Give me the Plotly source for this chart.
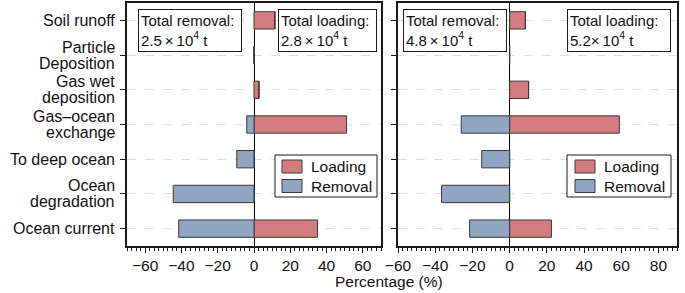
import plotly.graph_objects as go

categories = ["Soil runoff", "Particle<br>Deposition", "Gas wet<br>deposition",
              "Gas–ocean<br>exchange", "To deep ocean", "Ocean<br>degradation", "Ocean current"]

# Left panel (percent)
left_loading = [11.5, 0, 2.7, 51, 0, 0, 35]
left_removal = [0, 0, 0, -4, -9.5, -44.5, -41.5]
# Right panel (percent)
right_loading = [8.5, 0, 10.2, 59, 0, 0, 22.5]
right_removal = [0, 0, 0, -26, -15, -36.6, -21.5]

series_names = ["Loading", "Removal"]
left_totals = ["Total removal:<br>2.5\u2009×\u200910<sup>4</sup> t", "Total loading:<br>2.8\u2009×\u200910<sup>4</sup> t"]
right_totals = ["Total removal:<br>4.8\u2009×\u200910<sup>4</sup> t", "Total loading:<br>5.2×\u200910<sup>4</sup> t"]

LOAD_C = "#d47b7f"
REM_C = "#8fa5c1"
COLORS = [LOAD_C, REM_C]
EDGE = "#3a3a3a"
INK = "#1a1a1a"
FONT = "Liberation Sans, Arial, sans-serif"

fig = go.Figure()

def add_panel(loading, removal, xa, ya):
    for name, vals, col in zip(series_names, [loading, removal], COLORS):
        fig.add_trace(go.Bar(y=categories, x=vals, orientation="h", name=name,
                             marker=dict(color=col, line=dict(color=EDGE, width=1)),
                             width=0.5, xaxis=xa, yaxis=ya, showlegend=False))

add_panel(left_loading, left_removal, "x", "y")
add_panel(right_loading, right_removal, "x2", "y2")

W, H = 685, 293
def px(x): return x / W
def py(y): return 1 - y / H

common_x = dict(showline=True, linecolor=INK, linewidth=1.5, mirror=True,
                ticks="outside", ticklen=5, tickwidth=1.2, tickcolor=INK,
                dtick=20, showgrid=False, zeroline=True, zerolinecolor="#000000",
                zerolinewidth=1.2, tickfont=dict(size=15.5, color="#111"),
                minor=dict(ticks="outside", ticklen=3, tickwidth=1, tickcolor=INK, dtick=2.5),
                automargin=False, fixedrange=True)
common_y = dict(showline=True, linecolor=INK, linewidth=1.5, mirror=True,
                ticks="outside", ticklen=5, tickwidth=1.2, tickcolor=INK,
                showgrid=True, gridcolor="#dedede", griddash="dash", gridwidth=1,
                categoryorder="array", categoryarray=categories, showticklabels=False,
                range=[6.5, -0.5], automargin=False, fixedrange=True)

fig.update_layout(
    width=W, height=H,
    margin=dict(l=0, r=0, t=0, b=0, autoexpand=False),
    paper_bgcolor="white", plot_bgcolor="white",
    font=dict(family=FONT, size=15, color="#111"),
    barmode="relative",
    xaxis=dict(domain=[px(127), px(381)], range=[-70, 70], anchor="y", **common_x),
    xaxis2=dict(domain=[px(398), px(677)], range=[-60, 90], anchor="y2", **common_x),
    yaxis=dict(domain=[py(246), py(3)], anchor="x", **common_y),
    yaxis2=dict(domain=[py(246), py(3)], anchor="x2", **common_y),
    showlegend=False,
)

# Category labels on the left axis (tight line spacing like the reference)
for cat in categories:
    lines = cat.split("<br>")
    n = len(lines)
    for i, line in enumerate(lines):
        shift = (n - 1) * 8 - i * 16
        fig.add_annotation(text=line, xref="x domain", yref="y", x=0, y=cat,
                           xanchor="right", yanchor="middle", xshift=-10, yshift=shift,
                           showarrow=False, font=dict(size=16, color="#111"))

# Total boxes
def box(text, x0, x1, y):
    pad = 2
    fig.add_annotation(text=text, xref="paper", yref="paper", x=px(x0), y=py(y),
                       xanchor="left", yanchor="top", align="left", showarrow=False,
                       width=(x1 - x0) - 2 * pad - 2, borderpad=pad,
                       bordercolor=INK, borderwidth=1, bgcolor="white",
                       font=dict(size=15, color="#111"))

box(left_totals[0], 138, 242, 9)
box(left_totals[1], 278, 377, 9)
box(right_totals[0], 403, 507, 9)
box(right_totals[1], 567, 671, 9)

# Legend boxes (one per panel)
def legend_box(x0, x1, sw_x0):
    fig.add_shape(type="rect", xref="paper", yref="paper", layer="above",
                  x0=px(x0), x1=px(x1), y0=py(197), y1=py(155),
                  line=dict(color=INK, width=1), fillcolor="white")
    for k, (name, col) in enumerate(zip(series_names, COLORS)):
        yc = 166.5 + k * 19.5
        fig.add_shape(type="rect", xref="paper", yref="paper", layer="above",
                      x0=px(sw_x0), x1=px(sw_x0 + 20), y0=py(yc + 6.5), y1=py(yc - 6.5),
                      line=dict(color=EDGE, width=1), fillcolor=col)
        fig.add_annotation(text=name, xref="paper", yref="paper", x=px(sw_x0 + 27), y=py(yc),
                           xanchor="left", yanchor="middle", showarrow=False,
                           font=dict(size=15.5, color="#111"))

legend_box(275, 377, 282)
legend_box(567, 671, 575)

fig.add_annotation(text="Percentage (%)", xref="paper", yref="paper", x=px(389), y=py(281),
                   xanchor="center", yanchor="middle", showarrow=False,
                   font=dict(size=15.5, color="#111"))

fig.write_html("out.html", config={"displayModeBar": False},
               post_script="document.body.style.margin='0';document.body.style.overflow='hidden';")
